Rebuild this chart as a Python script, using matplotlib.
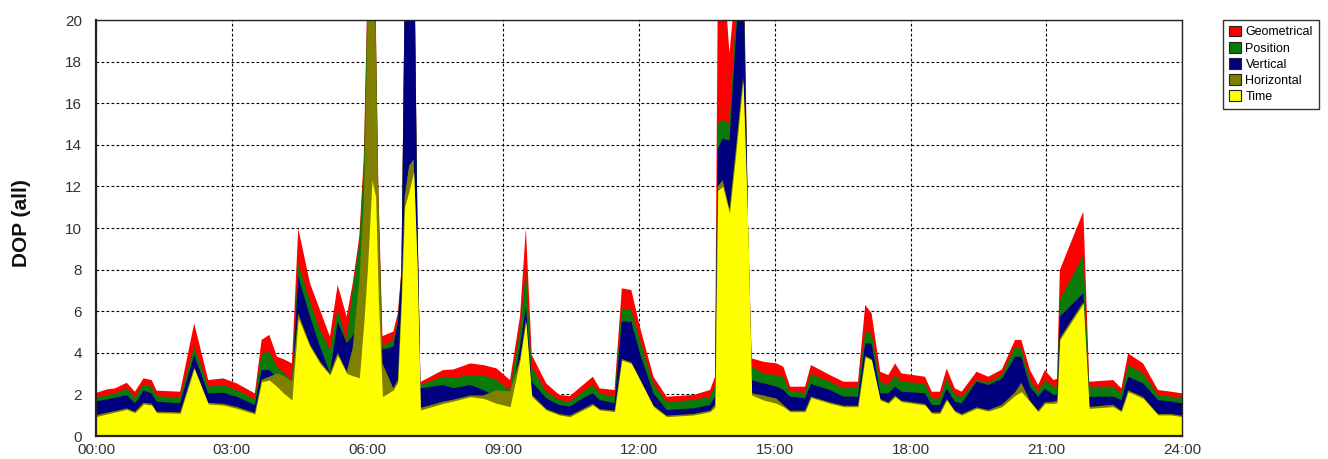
import matplotlib
matplotlib.use("Agg")
import matplotlib.pyplot as plt
from matplotlib.patches import Patch

plt.rcParams['font.family'] = ['Liberation Sans', 'DejaVu Sans']

# Time of day in hours
hours = [0.00, 0.24, 0.42, 0.68, 0.86, 1.05, 1.23, 1.34, 1.86, 2.17,
         2.48, 2.81, 3.11, 3.51, 3.66, 3.83, 4.00, 4.15, 4.33, 4.47,
         4.73, 4.95, 5.17, 5.34, 5.54, 5.67, 5.82, 5.92, 6.00, 6.10,
         6.18, 6.24, 6.33, 6.57, 6.67, 6.75, 6.82, 6.92, 7.02, 7.10,
         7.17, 7.67, 7.90, 8.27, 8.56, 8.85, 9.15, 9.37, 9.50, 9.63,
         9.95, 10.24, 10.47, 10.76, 10.98, 11.13, 11.46, 11.62, 11.83, 12.02,
         12.32, 12.61, 13.20, 13.57, 13.68, 13.74, 13.85, 14.00, 14.15, 14.30,
         14.41, 14.49, 14.75, 15.04, 15.19, 15.34, 15.67, 15.80, 16.22, 16.52,
         16.84, 17.00, 17.14, 17.33, 17.51, 17.66, 17.80, 18.32, 18.47, 18.65,
         18.80, 18.98, 19.13, 19.46, 19.72, 20.02, 20.31, 20.45, 20.64, 20.82,
         20.97, 21.16, 21.24, 21.30, 21.82, 21.95, 22.48, 22.66, 22.81, 23.14,
         23.47, 23.76, 24.00]

gdop = [2.07, 2.24, 2.29, 2.56, 2.13, 2.77, 2.69, 2.18, 2.13, 5.42,
        2.69, 2.77, 2.53, 2.05, 4.62, 4.86, 3.81, 3.69, 3.49, 9.98,
        7.34, 6.06, 4.78, 7.26, 5.74, 7.30, 9.60, 13.5, 21.5, 25.0,
        20.5, 12.0, 4.80, 5.02, 5.90, 8.00, 21.0, 28.0, 26.0, 11.0,
        2.60, 3.17, 3.20, 3.49, 3.41, 3.25, 2.69, 5.74, 9.98, 3.90,
        2.53, 1.97, 1.92, 2.45, 2.85, 2.29, 2.21, 7.10, 7.02, 5.25,
        2.85, 1.89, 1.97, 2.21, 2.85, 21.0, 23.0, 18.4, 22.0, 25.0,
        10.2, 3.73, 3.57, 3.49, 3.33, 2.37, 2.37, 3.41, 2.93, 2.61,
        2.61, 6.30, 5.90, 3.09, 2.93, 3.49, 3.01, 2.85, 2.13, 2.13,
        3.25, 2.29, 2.13, 3.09, 2.85, 3.20, 4.62, 4.62, 3.17, 2.45,
        3.17, 2.69, 2.75, 7.98, 10.79, 2.61, 2.69, 2.29, 3.97, 3.49,
        2.21, 2.13, 2.05]

pdop = [1.85, 1.97, 2.05, 2.29, 1.86, 2.48, 2.37, 1.92, 1.86, 4.29,
        2.37, 2.45, 2.21, 1.76, 3.97, 4.05, 3.33, 3.01, 2.69, 8.30,
        6.46, 5.10, 4.13, 6.06, 4.62, 7.00, 9.30, 13.0, 21.0, 24.5,
        20.2, 11.5, 4.30, 4.62, 5.58, 7.90, 20.9, 27.9, 25.9, 10.9,
        2.45, 2.85, 2.80, 2.93, 2.93, 2.69, 2.21, 5.10, 7.98, 3.30,
        2.13, 1.73, 1.65, 2.13, 2.45, 2.05, 1.89, 6.14, 6.06, 4.60,
        2.50, 1.65, 1.73, 1.89, 2.40, 15.0, 15.2, 15.0, 20.5, 24.0,
        10.1, 3.33, 3.01, 2.93, 2.85, 2.13, 2.08, 2.98, 2.61, 2.29,
        2.37, 5.02, 4.94, 2.61, 2.45, 2.93, 2.61, 2.53, 1.81, 1.81,
        2.77, 1.97, 1.89, 2.69, 2.57, 2.93, 4.29, 4.21, 2.69, 2.13,
        2.69, 2.37, 2.40, 6.54, 8.70, 2.37, 2.37, 2.05, 3.41, 3.01,
        1.97, 1.89, 1.81]

vdop = [1.67, 1.76, 1.84, 1.97, 1.57, 2.18, 2.05, 1.65, 1.57, 3.89,
        2.05, 2.08, 1.89, 1.49, 3.17, 3.17, 2.80, 2.60, 2.40, 7.66,
        5.74, 4.29, 3.01, 5.50, 4.45, 4.80, 5.50, 7.00, 8.00, 10.0,
        8.00, 6.00, 4.15, 4.29, 5.42, 7.80, 20.8, 27.8, 25.8, 10.7,
        2.29, 2.45, 2.30, 2.45, 2.21, 1.90, 1.50, 4.30, 6.22, 2.60,
        1.81, 1.49, 1.41, 1.81, 2.05, 1.73, 1.57, 5.50, 5.50, 3.97,
        2.05, 1.25, 1.33, 1.49, 1.90, 13.8, 14.3, 14.2, 19.5, 23.0,
        10.0, 2.69, 2.53, 2.37, 2.21, 1.89, 1.81, 2.50, 2.21, 1.89,
        1.89, 4.45, 4.45, 2.05, 2.05, 2.37, 2.13, 2.05, 1.49, 1.49,
        2.29, 1.65, 1.57, 2.61, 2.45, 2.75, 3.81, 3.81, 2.37, 1.89,
        2.29, 1.97, 2.00, 5.74, 6.86, 1.89, 1.89, 1.73, 2.85, 2.53,
        1.73, 1.65, 1.57]

hdop = [1.00, 1.12, 1.20, 1.33, 1.17, 1.60, 1.55, 1.17, 1.14, 3.30,
        1.60, 1.55, 1.40, 1.12, 2.70, 2.85, 3.00, 2.90, 2.62, 5.90,
        4.40, 3.60, 3.00, 4.00, 3.10, 4.20, 7.50, 11.3, 20.0, 23.0,
        19.5, 11.0, 3.50, 2.30, 2.70, 6.60, 11.5, 13.0, 13.3, 8.50,
        1.35, 1.65, 1.75, 1.95, 1.95, 2.20, 2.15, 3.70, 5.60, 2.00,
        1.30, 1.06, 0.98, 1.30, 1.55, 1.30, 1.22, 3.70, 3.55, 2.75,
        1.47, 0.98, 1.06, 1.22, 1.50, 12.0, 12.3, 10.9, 14.0, 17.3,
        9.80, 2.05, 1.95, 1.80, 1.50, 1.22, 1.22, 1.90, 1.62, 1.46,
        1.46, 3.86, 3.70, 1.78, 1.62, 1.94, 1.70, 1.54, 1.14, 1.14,
        1.78, 1.22, 1.06, 1.38, 1.25, 1.50, 2.10, 2.56, 1.70, 1.22,
        1.62, 1.65, 1.70, 4.70, 6.45, 1.40, 1.50, 1.22, 2.20, 1.88,
        1.06, 1.06, 0.98]

tdop = [0.93, 1.06, 1.15, 1.28, 1.12, 1.54, 1.49, 1.12, 1.09, 3.25,
        1.54, 1.49, 1.33, 1.06, 2.61, 2.69, 2.37, 2.05, 1.73, 5.66,
        4.29, 3.49, 2.93, 3.89, 3.01, 2.90, 2.80, 5.50, 8.10, 12.3,
        11.5, 6.50, 1.90, 2.21, 2.60, 6.50, 11.0, 11.8, 12.7, 8.00,
        1.25, 1.57, 1.68, 1.89, 1.81, 1.57, 1.41, 3.65, 5.50, 1.90,
        1.25, 1.01, 0.93, 1.25, 1.49, 1.25, 1.17, 3.65, 3.49, 2.69,
        1.41, 0.93, 1.01, 1.17, 1.40, 11.8, 12.0, 10.7, 13.8, 17.1,
        9.70, 1.97, 1.73, 1.57, 1.41, 1.17, 1.17, 1.85, 1.57, 1.41,
        1.41, 3.81, 3.65, 1.73, 1.57, 1.89, 1.65, 1.49, 1.09, 1.09,
        1.73, 1.17, 1.01, 1.33, 1.20, 1.41, 1.95, 2.13, 1.65, 1.17,
        1.57, 1.57, 1.60, 4.62, 6.38, 1.33, 1.41, 1.17, 2.13, 1.81,
        1.01, 1.01, 0.93]

series_names = ['Geometrical', 'Position', 'Vertical', 'Horizontal', 'Time']
series_colors = ['#ff0000', '#0a7a0a', '#00007f', '#7f7f00', '#ffff00']
x_ticks = [0, 3, 6, 9, 12, 15, 18, 21, 24]
x_labels = ['00:00', '03:00', '06:00', '09:00', '12:00', '15:00', '18:00', '21:00', '24:00']

fig = plt.figure(figsize=(13.28, 4.59), dpi=100)
ax = fig.add_axes([96 / 1328, 23 / 459, 1086 / 1328, 416 / 459])

# each DOP drawn from zero, largest first so the smaller ones sit in front
for vals, name, col in zip([gdop, pdop, vdop, hdop, tdop], series_names, series_colors):
    ax.fill_between(hours, 0, vals, color=col, linewidth=0, label=name)

ax.set_xlim(0, 24)
ax.set_ylim(0, 20)
ax.set_xticks(x_ticks)
ax.set_xticklabels(x_labels)
ax.set_yticks(range(0, 21, 2))
ax.tick_params(length=0, labelsize=11, labelcolor='#333333')
ax.tick_params(axis='y', pad=10)
ax.tick_params(axis='x', pad=5)
ax.set_axisbelow(True)
ax.grid(True, color='black', linestyle=(0, (2.5, 2)), linewidth=0.8)
for s in ax.spines.values():
    s.set_color('#222222')
    s.set_linewidth(1.0)
ax.spines['left'].set_linewidth(1.6)
ax.spines['bottom'].set_linewidth(1.6)

fig.text(22 / 1328, 0.513, 'DOP (all)', rotation=90, ha='center', va='center',
         fontsize=15, fontweight='bold', color='#111111')

handles = [Patch(facecolor=c, edgecolor='#222222', linewidth=0.8) for c in series_colors]
leg = fig.legend(handles, series_names, loc='upper left',
                 bbox_to_anchor=(1223 / 1328, 1 - 20 / 459), borderaxespad=0,
                 fontsize=9, handlelength=0.95, handleheight=0.95, handletextpad=0.4,
                 labelspacing=0.28, borderpad=0.45, fancybox=False, framealpha=1)
leg.get_frame().set_edgecolor('#333333')
leg.get_frame().set_linewidth(1.0)

fig.savefig('out.png', dpi=100)
